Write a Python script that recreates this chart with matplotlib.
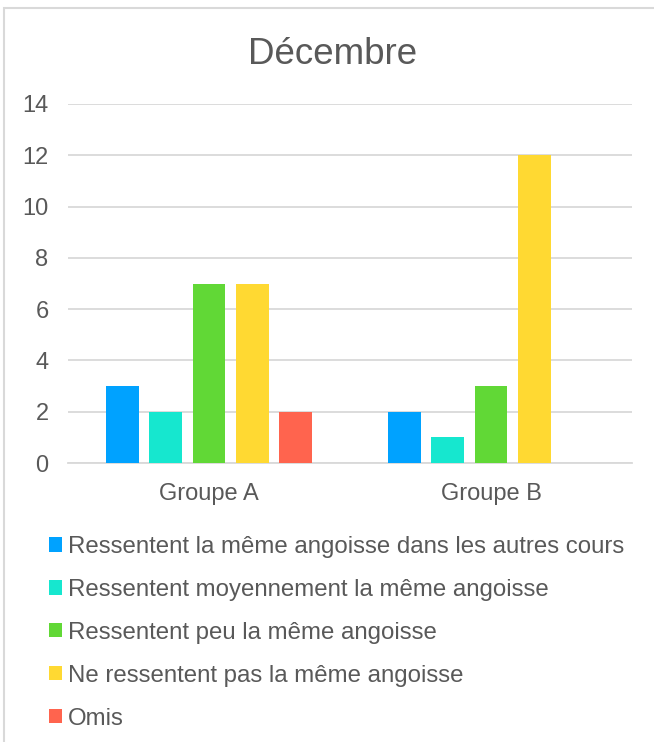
import numpy as np
import matplotlib.pyplot as plt
from matplotlib.patches import Patch, Rectangle

plt.rcParams['font.family'] = ['Liberation Sans', 'DejaVu Sans']

titre = 'Décembre'
groupes = ['Groupe A', 'Groupe B']
series = ['Ressentent la même angoisse dans les autres cours',
          'Ressentent moyennement la même angoisse',
          'Ressentent peu la même angoisse',
          'Ne ressentent pas la même angoisse',
          'Omis']
valeurs = [[3, 2], [2, 1], [7, 3], [7, 12], [2, 0]]
couleurs = ['#00A2FF', '#16E7CF', '#61D836', '#FFD932', '#FF644E']

gris = '#595959'
grille = '#D9D9D9'

fig = plt.figure(figsize=(6.54, 7.42), dpi=100)
ax = fig.add_axes([68 / 654, 279 / 742, 564 / 654, 359 / 742])

x = np.arange(len(groupes))
pas = 0.1536
largeur = 0.117
for i, (nom, vals, c) in enumerate(zip(series, valeurs, couleurs)):
    ax.bar(x + (i - 2) * pas, vals, width=largeur, color=c, zorder=3)

ax.set_xlim(-0.5, 1.5)
ax.set_ylim(0, 14)
ax.set_yticks(range(0, 15, 2))
ax.set_xticks(x)
ax.set_xticklabels(groupes)
ax.grid(axis='y', color=grille, lw=1.3, zorder=0)
for s in ['top', 'right', 'left']:
    ax.spines[s].set_visible(False)
ax.spines['bottom'].set_color(grille)
ax.spines['bottom'].set_linewidth(1.3)
ax.tick_params(axis='both', length=0, labelsize=17, colors=gris)
ax.tick_params(axis='y', pad=14)
ax.tick_params(axis='x', pad=14.5)

fig.text(333 / 654, 1 - 55 / 742, titre, ha='center', va='center',
         fontsize=26.5, color=gris)

# légende en colonne sous le graphique
poignees = [Patch(facecolor=c) for c in couleurs]
leg = fig.legend(poignees, series, loc='upper left',
                 bbox_to_anchor=(49 / 654, 1 - 536 / 742),
                 frameon=False, fontsize=17.3, labelcolor=gris,
                 handlelength=0.54, handleheight=0.54, handletextpad=0.25,
                 labelspacing=0.87, borderpad=0, borderaxespad=0)

fig.add_artist(Rectangle((4 / 654, -0.1), 1.1, 1.1 - 8 / 742,
                         transform=fig.transFigure, fill=False,
                         edgecolor=grille, lw=1.5))

fig.savefig('out.png', dpi=100)
